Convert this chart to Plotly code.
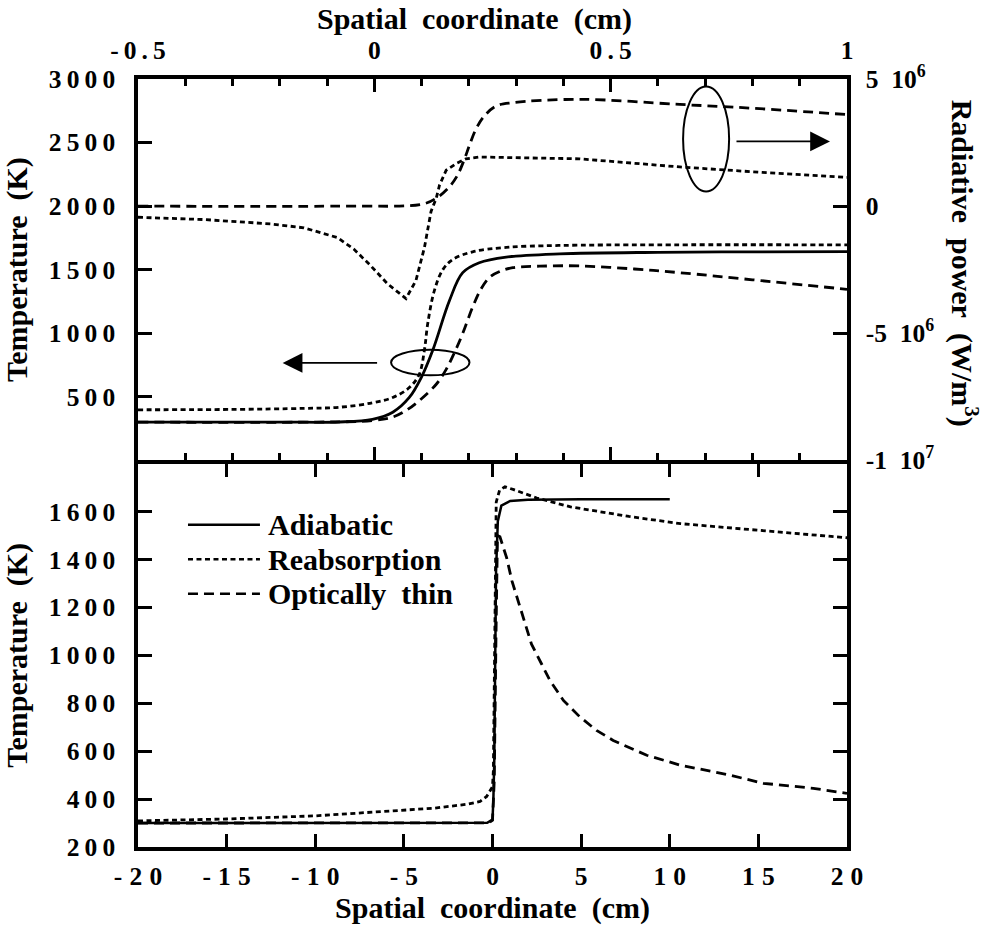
import plotly.graph_objects as go

# ---------------- data (top panel, x in cm) ----------------
top_x_adi = [-0.5, -0.2, -0.074, -0.004, 0.039, 0.074, 0.099, 0.124, 0.159, 0.187, 0.222, 0.279, 0.392, 0.6, 0.8, 1.0]
top_T_adi = [300, 300, 301, 322, 378, 494, 649, 870, 1257, 1476, 1554, 1598, 1624, 1636, 1640, 1642]

top_x_reab = [-0.5, -0.3, -0.15, -0.074, -0.004, 0.039, 0.074, 0.095, 0.106, 0.113, 0.127, 0.145, 0.166, 0.208, 0.279, 0.39, 0.6, 1.0]
top_T_reab = [397, 400, 408, 417, 452, 494, 572, 676, 869, 1076, 1335, 1500, 1580, 1640, 1675, 1690, 1695, 1695]

top_x_thin = [-0.5, -0.1, -0.004, 0.039, 0.067, 0.095, 0.131, 0.152, 0.169, 0.187, 0.208, 0.226, 0.244, 0.265, 0.293, 0.35, 0.434, 0.55, 0.646, 0.8, 1.0]
top_T_thin = [300, 301, 312, 340, 391, 469, 598, 715, 843, 998, 1205, 1350, 1440, 1485, 1515, 1527, 1529, 1505, 1476, 1420, 1345]

# radiative power (W/m^3)
top_xp_reab = [-0.5, -0.361, -0.22, -0.149, -0.078, -0.043, -0.008, 0.028, 0.067, 0.088, 0.106, 0.11, 0.12, 0.131, 0.138, 0.152, 0.173, 0.194, 0.208, 0.222, 0.434, 0.646, 0.8, 1.0]
top_P_reab = [-0.44e6, -0.53e6, -0.70e6, -0.855e6, -1.24e6, -1.70e6, -2.34e6, -3.06e6, -3.64e6, -2.93e6, -1.63e6, -1.24e6, -0.21e6, 0.31e6, 0.83e6, 1.41e6, 1.67e6, 1.86e6, 1.90e6, 1.93e6, 1.86e6, 1.54e6, 1.35e6, 1.13e6]

top_xp_thin = [-0.5, -0.074, 0.102, 0.131, 0.159, 0.176, 0.191, 0.201, 0.215, 0.233, 0.258, 0.293, 0.434, 0.646, 0.8, 1.0]
top_P_thin = [0, 0, 0.078e6, 0.31e6, 0.765e6, 1.216e6, 1.865e6, 2.38e6, 3.03e6, 3.55e6, 3.94e6, 4.07e6, 4.2e6, 4.0e6, 3.85e6, 3.6e6]

# ---------------- data (bottom panel, x in cm) ----------------
bot_x_adi = [-20, -10, -1, -0.3, 0, 0.05, 0.1, 0.15, 0.2, 0.3, 0.5, 1, 2, 5, 10]
bot_T_adi = [300, 300, 300, 301, 314, 400, 560, 1000, 1350, 1560, 1625, 1645, 1650, 1652, 1652]

bot_x_reab = [-20, -15, -10, -5, -3.3, -1.5, -0.7, -0.33, 0, 0.05, 0.1, 0.15, 0.21, 0.4, 0.7, 1.2, 2.5, 4.4, 7.7, 10.6, 13, 16.2, 20]
bot_T_reab = [309, 317, 330, 352, 362, 378, 390, 411, 452, 520, 900, 1500, 1640, 1690, 1704, 1692, 1657, 1620, 1580, 1550, 1535, 1512, 1491]

bot_x_thin = [-20, -10, -1, -0.2, 0, 0.1, 0.2, 0.28, 0.42, 0.8, 1.1, 1.55, 2.2, 2.77, 3.24, 4.0, 4.93, 5.87, 6.81, 8.7, 10.58, 13.4, 15.28, 18.1, 20]
bot_T_thin = [300, 300, 300, 301, 312, 480, 1100, 1500, 1495, 1407, 1310, 1200, 1047, 964, 895, 812, 743, 687, 645, 583, 542, 500, 466, 445, 424]

# tick labels
top_x_ticks = [-0.5, 0, 0.5, 1]
top_x_labels = ["-0.5", "0", "0.5", "1"]
top_T_ticks = [500, 1000, 1500, 2000, 2500, 3000]
top_P_ticks = [5e6, 0, -5e6, -1e7]
top_P_labels = ["5\u00a0\u00a010<sup>6</sup>", "0", "-5\u00a0\u00a010<sup>6</sup>", "-1\u00a0\u00a010<sup>7</sup>"]
bot_x_ticks = [-20, -15, -10, -5, 0, 5, 10, 15, 20]
bot_T_ticks = [200, 400, 600, 800, 1000, 1200, 1400, 1600]
legend_names = ["Adiabatic", "Reabsorption", "Optically\u00a0\u00a0thin"]
x_title = "Spatial\u00a0\u00a0coordinate\u00a0\u00a0(cm)"
t_title = "Temperature\u00a0\u00a0(K)"
p_title = "Radiative\u00a0\u00a0power\u00a0\u00a0(W/m<sup>3</sup>)"

FONT = "Liberation Serif"
BLACK = "black"
DOT = "5px,3.5px"
DASH = "10px,6px"
LW = 2.8


def spaced(s, sep="\u2009"):
    return sep.join(list(s))


fig = go.Figure()

# top panel temperatures
fig.add_trace(go.Scatter(x=top_x_adi, y=top_T_adi, mode="lines", line=dict(color=BLACK, width=LW),
                         xaxis="x", yaxis="y", showlegend=False, line_shape="spline"))
fig.add_trace(go.Scatter(x=top_x_reab, y=top_T_reab, mode="lines", line=dict(color=BLACK, width=LW, dash=DOT),
                         xaxis="x", yaxis="y", showlegend=False, line_shape="spline"))
fig.add_trace(go.Scatter(x=top_x_thin, y=top_T_thin, mode="lines", line=dict(color=BLACK, width=LW, dash=DASH),
                         xaxis="x", yaxis="y", showlegend=False, line_shape="spline"))
# top panel radiative power
fig.add_trace(go.Scatter(x=top_xp_reab, y=top_P_reab, mode="lines", line=dict(color=BLACK, width=LW, dash=DOT),
                         xaxis="x", yaxis="y2", showlegend=False))
fig.add_trace(go.Scatter(x=top_xp_thin, y=top_P_thin, mode="lines", line=dict(color=BLACK, width=LW, dash=DASH),
                         xaxis="x", yaxis="y2", showlegend=False, line_shape="spline"))
# bottom panel
fig.add_trace(go.Scatter(x=bot_x_adi, y=bot_T_adi, mode="lines", line=dict(color=BLACK, width=2.5),
                         xaxis="x2", yaxis="y3", name=legend_names[0], showlegend=False))
fig.add_trace(go.Scatter(x=bot_x_reab, y=bot_T_reab, mode="lines", line=dict(color=BLACK, width=LW, dash=DOT),
                         xaxis="x2", yaxis="y3", name=legend_names[1], showlegend=False))
fig.add_trace(go.Scatter(x=bot_x_thin, y=bot_T_thin, mode="lines", line=dict(color=BLACK, width=LW, dash=DASH),
                         xaxis="x2", yaxis="y3", name=legend_names[2], showlegend=False))

tickfont = dict(family=FONT, size=25.5, color=BLACK, weight=700)
titlefont = dict(family=FONT, size=30, color=BLACK, weight=700)
AXLW = 3.5
top_dom = [0.5036, 1]
bot_dom = [0, 0.4990]

common = dict(showline=True, linecolor=BLACK, linewidth=AXLW, ticks="inside", tickcolor=BLACK,
              tickwidth=3, showgrid=False, zeroline=False, tickfont=tickfont)

fig.update_layout(
    width=984, height=926,
    margin=dict(l=138, r=137, t=79, b=72),
    paper_bgcolor="white", plot_bgcolor="white",
    showlegend=False,
    xaxis=dict(domain=[0, 1], anchor="y", side="top", range=[-0.5, 1],
               tickvals=top_x_ticks, ticktext=[spaced(t) for t in top_x_labels],
               ticklen=13, mirror="ticks", ticklabelstandoff=6,
               minor=dict(dtick=0.1, tick0=0, ticks="inside", ticklen=7, tickwidth=3, tickcolor=BLACK),
               **common),
    yaxis=dict(domain=top_dom, anchor="x", range=[0, 3000],
               tickvals=top_T_ticks, ticktext=[spaced(str(v)) for v in top_T_ticks],
               ticklen=14, mirror=True, ticklabelstandoff=14,
               title=dict(text=t_title, font=titlefont, standoff=14),
               **common),
    yaxis2=dict(overlaying="y", anchor="x", side="right", range=[-1e7, 5e6],
                tickvals=top_P_ticks, ticktext=top_P_labels, ticklen=14, ticklabelstandoff=10,
                **common),
    xaxis2=dict(domain=[0, 1], anchor="y3", range=[-20, 20],
                tickvals=bot_x_ticks, ticktext=[spaced(str(v), "\u2009\u200a") for v in bot_x_ticks],
                ticklen=13, mirror="ticks", ticklabelstandoff=4,
                title=dict(text=x_title, font=titlefont, standoff=2),
                **common),
    yaxis3=dict(domain=bot_dom, anchor="x2", range=[200, 1800],
                tickvals=bot_T_ticks, ticktext=[spaced(str(v)) for v in bot_T_ticks],
                ticklen=14, mirror="ticks", ticklabelstandoff=14,
                title=dict(text=t_title, font=titlefont, standoff=14),
                **common),
)

# top x-axis title (placed slightly left of centre as in the original)
fig.add_annotation(text=x_title, xref="paper", yref="paper", x=0.4753, y=1.0775,
                   xanchor="center", yanchor="middle", showarrow=False, font=titlefont)

# right axis title (reads top to bottom)
fig.add_annotation(text=p_title, textangle=90,
                   xref="paper", yref="paper", x=1.166, y=0.76, xanchor="center", yanchor="middle",
                   showarrow=False, font=titlefont)

# ellipses and arrows marking the axes
fig.add_shape(type="circle", xref="x", yref="y", x0=0.0354, x1=0.2013, y0=668, y1=870,
              line=dict(color=BLACK, width=2))
fig.add_annotation(xref="x", yref="y", axref="x", ayref="y", x=-0.194, y=766, ax=0.009, ay=766,
                   text="", showarrow=True, arrowhead=2, arrowsize=2.2, arrowwidth=1.8, arrowcolor=BLACK)
fig.add_shape(type="circle", xref="x", yref="y", x0=0.6532, x1=0.7506, y0=2114, y1=2941,
              line=dict(color=BLACK, width=2))
fig.add_annotation(xref="x", yref="y", axref="x", ayref="y", x=0.964, y=2509, ax=0.763, ay=2509,
                   text="", showarrow=True, arrowhead=2, arrowsize=2.2, arrowwidth=1.8, arrowcolor=BLACK)

# manual legend in bottom panel
leg_y = [0.8406, 0.7506, 0.6607]
leg_dash = ["solid", DOT, DASH]
for name, yy, dsh in zip(legend_names, leg_y, leg_dash):
    fig.add_shape(type="line", xref="x2 domain", yref="y3 domain", x0=0.0705, x1=0.172, y0=yy, y1=yy,
                  line=dict(color=BLACK, width=2.5, dash=dsh))
    fig.add_annotation(text=name, xref="x2 domain", yref="y3 domain", x=0.180, y=yy,
                       xanchor="left", yanchor="middle", showarrow=False, font=titlefont)

fig.write_html("out.html", config={"displayModeBar": False},
               post_script="document.body.style.margin='0px';document.body.style.overflow='hidden';")
